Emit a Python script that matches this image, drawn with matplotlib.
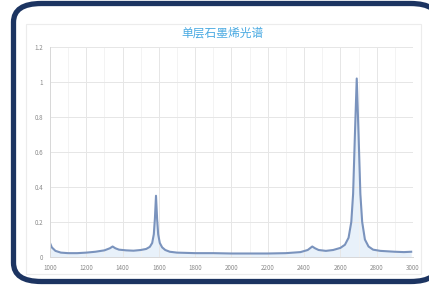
import matplotlib
matplotlib.use("Agg")
import matplotlib.pyplot as plt
from matplotlib.patches import FancyBboxPatch, Rectangle

plt.rcParams["font.family"] = ["Noto Sans CJK SC", "DejaVu Sans"]

# Raman shift (cm^-1) and intensity
shift = [1000, 1010, 1030, 1060, 1100, 1150, 1200, 1250, 1300, 1330, 1345,
         1360, 1380, 1420, 1460, 1500, 1530, 1550, 1563, 1572, 1578, 1584,
         1590, 1596, 1605, 1618, 1635, 1660, 1700, 1800, 1900, 2000, 2100,
         2200, 2300, 2380, 2420, 2445, 2460, 2480, 2520, 2560, 2600, 2625,
         2645, 2660, 2670, 2680, 2690, 2700, 2710, 2720, 2735, 2755, 2780,
         2820, 2900, 2950, 2990]
intensity = [0.08, 0.055, 0.035, 0.025, 0.022, 0.022, 0.025, 0.03, 0.038,
             0.05, 0.06, 0.05, 0.042, 0.038, 0.036, 0.04, 0.046, 0.058, 0.08,
             0.13, 0.22, 0.35, 0.22, 0.13, 0.08, 0.055, 0.04, 0.03, 0.025,
             0.022, 0.022, 0.02, 0.02, 0.02, 0.022, 0.028, 0.04, 0.06, 0.05,
             0.04, 0.035, 0.04, 0.052, 0.07, 0.11, 0.2, 0.36, 0.7, 1.02, 0.7,
             0.36, 0.2, 0.1, 0.06, 0.042, 0.035, 0.03, 0.028, 0.03]

x_ticks = [1000, 1200, 1400, 1600, 1800, 2000, 2200, 2400, 2600, 2800, 3000]
y_ticks = [0, 0.2, 0.4, 0.6, 0.8, 1, 1.2]
y_labels = ["0", "0.2", "0.4", "0.6", "0.8", "1", "1.2"]
title = "单层石墨烯光谱"

fig = plt.figure(figsize=(4.29, 2.88), dpi=100)
fig.patch.set_facecolor("white")

# dark rounded frame around the card (runs off the right edge)
frame = FancyBboxPatch((13.5 / 429, 6.5 / 288), 425 / 429, 278 / 288,
                       boxstyle="round,pad=0,rounding_size=0.065",
                       transform=fig.transFigure, facecolor="white",
                       edgecolor="#1c3461", linewidth=3.8, zorder=-2)
fig.patches.append(frame)
# faint chart-area border
fig.patches.append(Rectangle((26 / 429, 14 / 288), 395 / 429, 250 / 288,
                             transform=fig.transFigure, facecolor="none",
                             edgecolor="#ececec", linewidth=0.8, zorder=-1))

ax = fig.add_axes([50 / 429, 1 - 257 / 288, 363 / 429, 210 / 288])
ax.set_facecolor("none")
ax.fill_between(shift, intensity, 0, color="#e3eef9", alpha=0.8, lw=0)
ax.plot(shift, intensity, color="#7a93bd", lw=1.5)

ax.set_xlim(1000, 3000)
ax.set_ylim(0, 1.2)
ax.set_xticks(x_ticks)
ax.set_xticks(range(1100, 3000, 200), minor=True)
ax.set_yticks(y_ticks)
ax.set_yticklabels(y_labels)
ax.tick_params(axis="both", which="both", length=0, labelsize=4.5,
               labelcolor="#8a8a8a", pad=5)
ax.grid(True, which="major", color="#e6e6e6", lw=0.7)
ax.grid(True, which="minor", axis="x", color="#f1f1f1", lw=0.6)
for side in ["top", "right"]:
    ax.spines[side].set_visible(False)
for side in ["left", "bottom"]:
    ax.spines[side].set_color("#d8d8d8")
    ax.spines[side].set_linewidth(0.7)

fig.text(222 / 429, 1 - 33 / 288, title, ha="center", va="center",
         fontsize=8.5, color="#4aaae2")

fig.savefig("out.png", dpi=100)
